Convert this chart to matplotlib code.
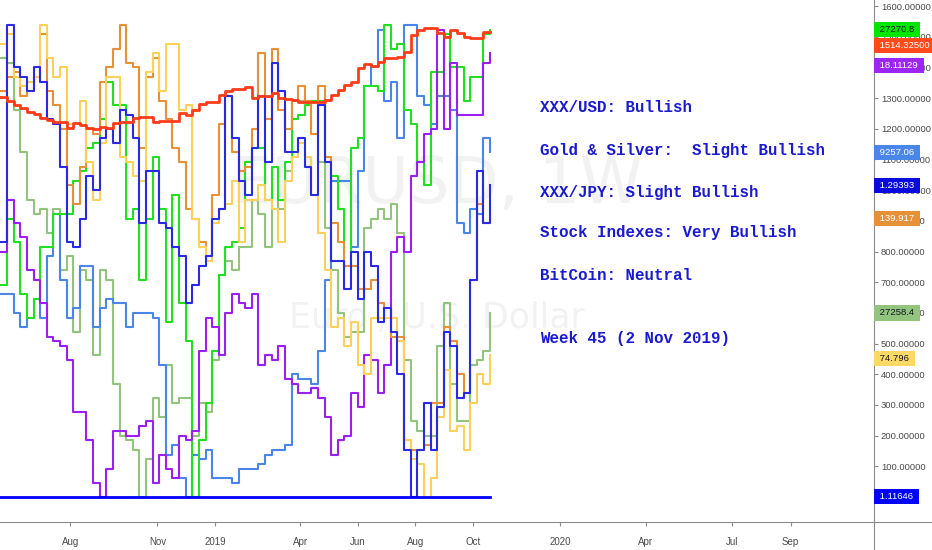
import pandas as pd
import numpy as np
import matplotlib
matplotlib.use("Agg")
import matplotlib.pyplot as plt
import matplotlib.dates as mdates
import matplotlib.transforms as mtransforms
from matplotlib.lines import Line2D

plt.rcParams['font.family'] = ['Liberation Sans', 'DejaVu Sans']

# weekly bars, last entry is the closing point of the step line
weeks = pd.date_range("2018-05-19", periods=75, freq="7D")

# gold, on the visible price scale
gold = [1304, 1290, 1277, 1268, 1255, 1248, 1235, 1229, 1222, 1222,
        1202, 1219, 1212, 1202, 1199, 1206, 1202, 1219, 1222, 1222,
        1235, 1238, 1238, 1222, 1225, 1225, 1225, 1251, 1245, 1261,
        1281, 1287, 1287, 1310, 1323, 1330, 1330, 1336, 1300, 1307,
        1307, 1317, 1300, 1297, 1294, 1287, 1287, 1287, 1287, 1294,
        1310, 1326, 1343, 1352, 1398, 1411, 1405, 1418, 1431, 1431,
        1434, 1450, 1506, 1522, 1528, 1528, 1512, 1499, 1522, 1512,
        1499, 1496, 1496, 1515, 1514.325]

eurusd = [1.18, 1.17, 1.16, 1.17, 1.16, 1.17, 1.17, 1.17, 1.16, 1.17,
          1.17, 1.16, 1.14, 1.14, 1.16, 1.16, 1.17, 1.16, 1.15, 1.15,
          1.16, 1.14, 1.13, 1.13, 1.13, 1.14, 1.14, 1.14, 1.14, 1.14,
          1.15, 1.14, 1.15, 1.15, 1.15, 1.14, 1.13, 1.14, 1.13, 1.13,
          1.12, 1.13, 1.13, 1.13, 1.12, 1.12, 1.12, 1.12, 1.12, 1.13,
          1.12, 1.12, 1.12, 1.13, 1.14, 1.13, 1.12, 1.12, 1.11, 1.11,
          1.11, 1.11, 1.11, 1.11, 1.11, 1.11, 1.10, 1.10, 1.10, 1.10,
          1.10, 1.10, 1.11, 1.11, 1.11646]

# overlay symbols, each on its own hidden scale (0 = bottom, 100 = top of range)
dow = [45, 59, 54, 43, 38, 42, 53, 53, 60, 60, 60, 67, 69, 74, 75, 80, 88, 83, 83, 59,
       61, 46, 59, 72, 61, 37, 64, 41, 33, 0, 12, 20, 31, 47, 53, 54, 57, 71, 74, 74,
       63, 70, 63, 71, 80, 81, 83, 84, 84, 72, 68, 61, 49, 74, 76, 87, 87, 86, 100, 95,
       96, 82, 79, 71, 66, 90, 90, 98, 91, 91, 84, 89, 89, 98, 99]
silver = [52, 63, 58, 55, 48, 46, 41, 34, 33, 32, 29, 18, 18, 12, 3, 0, 6, 14, 14, 13,
          13, 15, 16, 3, 9, 6, 4, 13, 12, 14, 31, 38, 36, 30, 39, 43, 41, 40, 43, 28,
          30, 29, 32, 25, 24, 22, 22, 23, 21, 17, 9, 12, 13, 22, 19, 30, 29, 22, 28, 52,
          55, 52, 68, 71, 77, 78, 99, 78, 92, 81, 81, 81, 81, 92, 94]
bitcoin = [43, 43, 39, 36, 38, 42, 38, 51, 60, 46, 38, 40, 49, 49, 36, 40, 42, 41, 41, 36,
           39, 39, 39, 38, 28, 9, 11, 4, 0, 9, 8, 10, 4, 4, 4, 3, 6, 6, 6, 7,
           9, 10, 10, 11, 26, 25, 25, 24, 31, 46, 67, 67, 67, 53, 69, 87, 91, 99, 84, 88,
           76, 100, 100, 85, 83, 79, 85, 85, 82, 58, 56, 61, 60, 76, 73]
gbpusd = [54, 100, 91, 89, 86, 91, 88, 80, 79, 70, 54, 53, 59, 68, 65, 76, 78, 75, 82, 81,
          76, 58, 69, 69, 58, 57, 53, 51, 41, 45, 49, 51, 59, 61, 85, 76, 67, 64, 74, 85,
          71, 92, 86, 73, 73, 76, 70, 64, 83, 71, 50, 50, 44, 52, 42, 52, 49, 37, 40, 35,
          26, 10, 0, 10, 20, 10, 19, 35, 32, 21, 22, 46, 69, 58, 66]
gbpjpy = [86, 89, 90, 85, 86, 89, 98, 86, 83, 78, 66, 62, 70, 78, 77, 88, 91, 95, 100, 92,
          91, 74, 89, 93, 84, 80, 74, 71, 61, 59, 54, 51, 64, 79, 85, 73, 69, 70, 78, 94,
          80, 95, 82, 78, 84, 87, 84, 77, 87, 72, 58, 54, 49, 49, 44, 44, 46, 41, 40, 34,
          34, 12, 10, 10, 11, 20, 20, 36, 33, 26, 22, 46, 62, 58, 59]
dji = [93, 92, 82, 73, 63, 60, 61, 56, 61, 48, 51, 35, 48, 46, 30, 48, 46, 24, 13, 12,
       10, 0, 8, 21, 17, 28, 20, 21, 21, 13, 20, 18, 29, 47, 50, 48, 53, 53, 63, 60,
       53, 70, 61, 69, 84, 84, 84, 84, 71, 57, 48, 39, 34, 35, 35, 57, 59, 61, 59, 62,
       56, 29, 16, 14, 13, 13, 32, 41, 24, 16, 16, 28, 29, 31, 39]
audjpy = [96, 98, 89, 87, 88, 89, 100, 93, 89, 91, 79, 79, 84, 71, 63, 75, 89, 89, 72, 71,
          68, 67, 90, 94, 86, 96, 96, 82, 83, 59, 53, 50, 58, 61, 62, 67, 54, 63, 63, 66,
          63, 61, 54, 67, 72, 75, 72, 64, 56, 48, 36, 38, 32, 37, 28, 26, 38, 38, 38, 38,
          33, 12, 8, 7, 0, 4, 17, 27, 14, 15, 10, 20, 26, 24, 30]

overlay_series = [dji, bitcoin, dow, silver, gbpjpy, audjpy, gbpusd]
overlay_colors = ['#93c47d', '#4a86e8', '#21e021', '#9a1ff0', '#e69138', '#fcd15b', '#2a2ae0']
overlay_tags = ['27258.4', '9257.06', '27270.8', '18.11129', '139.917', '74.796', '1.29393']
tag_colors = ['#93c47d', '#4a86e8', '#00e600', '#9c27f5', '#e69138', '#ffd966', '#0a0ae0']
tag_text = ['#131722', 'white', '#131722', 'white', 'white', '#131722', 'white']
tag_shift = [0, 0, 0, -12, 0, -3, 0]

tick_dates = ["2018-08-01", "2018-11-01", "2019-01-01", "2019-04-01", "2019-06-01",
              "2019-08-01", "2019-10-01", "2020-01-01", "2020-04-01", "2020-07-01",
              "2020-09-01"]
tick_labels = ["Aug", "Nov", "2019", "Apr", "Jun", "Aug", "Oct", "2020", "Apr", "Jul", "Sep"]

outlook = ["XXX/USD: Bullish", "Gold & Silver:  Slight Bullish", "XXX/JPY: Slight Bullish",
           "Stock Indexes: Very Bullish", "BitCoin: Neutral", "Week 45 (2 Nov 2019)"]
outlook_y = [108, 150, 192, 233, 275, 339]

W, H = 932, 550
fig = plt.figure(figsize=(W / 100, H / 100), dpi=100)
ax = fig.add_axes([0, 28 / H, 874 / W, 522 / H])
ax2 = ax.twinx()
ax.set_zorder(2)
ax2.set_zorder(1)
ax.patch.set_visible(False)

x0 = mdates.date2num(pd.Timestamp("2019-01-01"))
x1 = mdates.date2num(pd.Timestamp("2020-01-01"))
ppd = 345 / (x1 - x0)
ax.set_xlim(x0 - 215 / ppd, x1 + 314 / ppd)
ax.set_ylim(-81.5, 1619.6)
ax2.set_ylim(-5.3, 105.3)

xd = mdates.date2num(weeks)

# watermark
ax2.text(0.5, 0.646, "EURUSD, 1W", transform=ax2.transAxes, ha='center', va='center',
         fontsize=46, color='#f2f2f2', family='DejaVu Sans', zorder=0)
ax2.text(0.5, 0.391, "Euro / U.S. Dollar", transform=ax2.transAxes, ha='center', va='center',
         fontsize=25, color='#f2f2f2', family='DejaVu Sans', zorder=0)

for vals, col in zip(overlay_series, overlay_colors):
    ax2.plot(xd, vals, drawstyle='steps-post', color=col, lw=1.5)

ax.plot(xd, gold, drawstyle='steps-post', color='#ff3b1a', lw=2.0, zorder=3)
ax.plot(xd, eurusd, drawstyle='steps-post', color='#0000ff', lw=2.0, zorder=3)

# axes styling
for s in ['top', 'left']:
    ax.spines[s].set_visible(False)
for s in ax2.spines.values():
    s.set_visible(False)
ax.spines['right'].set_color('#8c8c8c')
ax.spines['bottom'].set_color('#8c8c8c')
ax2.set_yticks([])
ax2.tick_params(right=False, labelright=False)

ax.yaxis.tick_right()
yt = np.arange(100, 1700, 100)
ax.set_yticks(yt)
ax.set_yticklabels([f"{v:.5f}" for v in yt])
ax.tick_params(axis='y', length=3, width=0.8, color='#8c8c8c', labelsize=6.8,
               labelcolor='#4a4a4a', pad=2)
ax.set_xticks([mdates.date2num(pd.Timestamp(d)) for d in tick_dates])
ax.set_xticklabels(tick_labels)
ax.tick_params(axis='x', length=3, width=0.8, color='#8c8c8c', labelsize=7,
               labelcolor='#4a4a4a', pad=8)

fig.add_artist(Line2D([874 / W, 874 / W], [0, 28 / H], color='#8c8c8c', lw=0.8))
fig.add_artist(Line2D([874 / W, 1], [28 / H, 28 / H], color='#8c8c8c', lw=0.8))

# price tags on the right scale
trans_main = mtransforms.blended_transform_factory(ax.transAxes, ax.transData)
trans_over = mtransforms.blended_transform_factory(ax.transAxes, ax2.transData)


def tag(text, y, trans, bg, fg, dy=0):
    ax.annotate(" " + text + " ", xy=(1, y), xycoords=trans, xytext=(3.3, dy),
                textcoords='offset pixels', ha='left', va='center', fontsize=6.8,
                color=fg, annotation_clip=False, zorder=10,
                bbox=dict(boxstyle='square,pad=0.33', fc=bg, ec='none'))


for vals, t, bg, fg, dy in zip(overlay_series, overlay_tags, tag_colors, tag_text, tag_shift):
    tag(t, vals[-1], trans_over, bg, fg, dy)
tag("1514.32500", gold[-1], trans_main, '#ff4a1a', 'white', -13)
tag("1.11646", eurusd[-1], trans_main, '#0000ff', 'white')

for s, yc in zip(outlook, outlook_y):
    fig.text(540 / W, 1 - yc / H, s, family='Liberation Mono', fontsize=11.4,
             fontweight='bold', color='#1a1ad0', va='center', ha='left')

fig.savefig("out.png", dpi=100)
